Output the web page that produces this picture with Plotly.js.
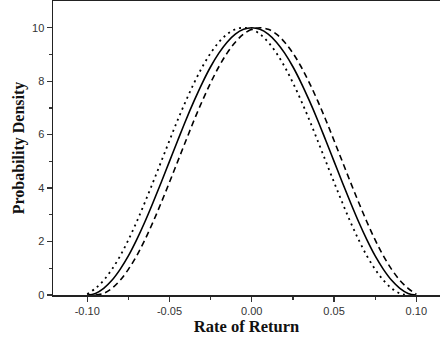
<!DOCTYPE html>
<html><head><meta charset="utf-8">
<script src="https://cdn.plot.ly/plotly-3.0.1.min.js"></script>
<style>html,body{margin:0;padding:0;background:#fff;}#chart{width:440px;height:341px;}</style>
</head><body><div id="chart"></div>
<script>
// Density curves (peak 10 near the centre)
const xSolid = [-0.100,-0.095,-0.090,-0.085,-0.080,-0.075,-0.070,-0.065,-0.060,-0.055,-0.050,-0.045,-0.040,-0.035,-0.030,-0.025,-0.020,-0.015,-0.010,-0.005,0.000,0.005,0.010,0.015,0.020,0.025,0.030,0.035,0.040,0.045,0.050,0.055,0.060,0.065,0.070,0.075,0.080,0.085,0.090,0.095,0.100];
const ySolid = [0,0.06,0.25,0.55,0.96,1.46,2.06,2.73,3.46,4.22,5.00,5.78,6.55,7.27,7.94,8.54,9.05,9.46,9.76,9.94,10.00,9.94,9.76,9.46,9.05,8.54,7.94,7.27,6.55,5.78,5.00,4.22,3.46,2.73,2.06,1.46,0.96,0.55,0.25,0.06,0];
const xDotted = [-0.100,-0.095,-0.090,-0.085,-0.080,-0.075,-0.070,-0.065,-0.060,-0.055,-0.050,-0.045,-0.040,-0.035,-0.030,-0.025,-0.020,-0.015,-0.010,-0.005,0.000,0.005,0.010,0.015,0.020,0.025,0.030,0.035,0.040,0.045,0.050,0.055,0.060,0.065,0.070,0.075,0.080,0.085,0.090,0.095];
const yDotted = [0.03,0.25,0.55,0.96,1.46,2.06,2.73,3.46,4.22,5.00,5.78,6.55,7.27,7.94,8.54,9.05,9.46,9.76,9.94,10.00,9.94,9.76,9.46,9.05,8.54,7.94,7.27,6.55,5.78,5.00,4.22,3.46,2.73,2.06,1.46,0.96,0.55,0.25,0.06,0];
const xDashed = [-0.095,-0.090,-0.085,-0.080,-0.075,-0.070,-0.065,-0.060,-0.055,-0.050,-0.045,-0.040,-0.035,-0.030,-0.025,-0.020,-0.015,-0.010,-0.005,0.000,0.005,0.010,0.015,0.020,0.025,0.030,0.035,0.040,0.045,0.050,0.055,0.060,0.065,0.070,0.075,0.080,0.085,0.090,0.095,0.100];
const yDashed = [0,0.06,0.25,0.55,0.96,1.46,2.06,2.73,3.46,4.22,5.00,5.78,6.55,7.27,7.94,8.54,9.05,9.46,9.76,9.94,10.00,9.94,9.76,9.46,9.05,8.54,7.94,7.27,6.55,5.78,5.00,4.22,3.46,2.73,2.06,1.46,0.96,0.55,0.25,0.03];
const xTicks = [-0.10,-0.05,0.00,0.05,0.10];
const xTickLabels = ['-0.10','-0.05','0.00','0.05','0.10'];
const xMinorTicks = [-0.075,-0.025,0.025,0.075];
const yTicks = [0,2,4,6,8,10];
const yMinorTicks = [1,3,5,7,9];

const traces = [
  {x:xDotted,y:yDotted,mode:'lines',line:{color:'#000',width:1.8,dash:'2px,4px',shape:'spline'},name:'dotted'},
  {x:xDashed,y:yDashed,mode:'lines',line:{color:'#000',width:1.6,dash:'6px,4px',shape:'spline'},name:'dashed'},
  {x:xSolid,y:ySolid,mode:'lines',line:{color:'#000',width:1.6,shape:'spline'},name:'solid'}
];
const layout = {
  width:440,height:341,showlegend:false,
  paper_bgcolor:'#fff',plot_bgcolor:'#fff',
  margin:{l:53,r:0,t:1,b:46},
  font:{family:'Liberation Sans, Arial, sans-serif',color:'#222',size:11},
  xaxis:{range:[-0.1208,0.1144],tickvals:xTicks,ticktext:xTickLabels,ticks:'outside',ticklen:5,tickwidth:1.2,tickcolor:'#333',
    minor:{tickvals:xMinorTicks,ticks:'outside',ticklen:3,tickwidth:1.2,tickcolor:'#333'},
    showline:true,linecolor:'#222',linewidth:1.5,mirror:true,showgrid:false,zeroline:false,
    tickfont:{size:11,color:'#333'},
    title:{text:'Rate of Return',font:{family:'Liberation Serif, Times New Roman, serif',size:16.5,color:'#111',weight:'bold'},standoff:3}},
  yaxis:{range:[0,11.0],tickvals:yTicks,ticks:'outside',ticklen:5,tickwidth:1.2,tickcolor:'#333',
    minor:{tickvals:yMinorTicks,ticks:'outside',ticklen:3,tickwidth:1.2,tickcolor:'#333'},
    showline:true,linecolor:'#222',linewidth:1.5,showgrid:false,zeroline:false,
    tickfont:{size:11,color:'#333'},
    title:{text:'Probability Density',font:{family:'Liberation Serif, Times New Roman, serif',size:16,color:'#111',weight:'bold'},standoff:3}}
};
Plotly.newPlot('chart',traces,layout,{staticPlot:true,displayModeBar:false});
</script></body></html>
